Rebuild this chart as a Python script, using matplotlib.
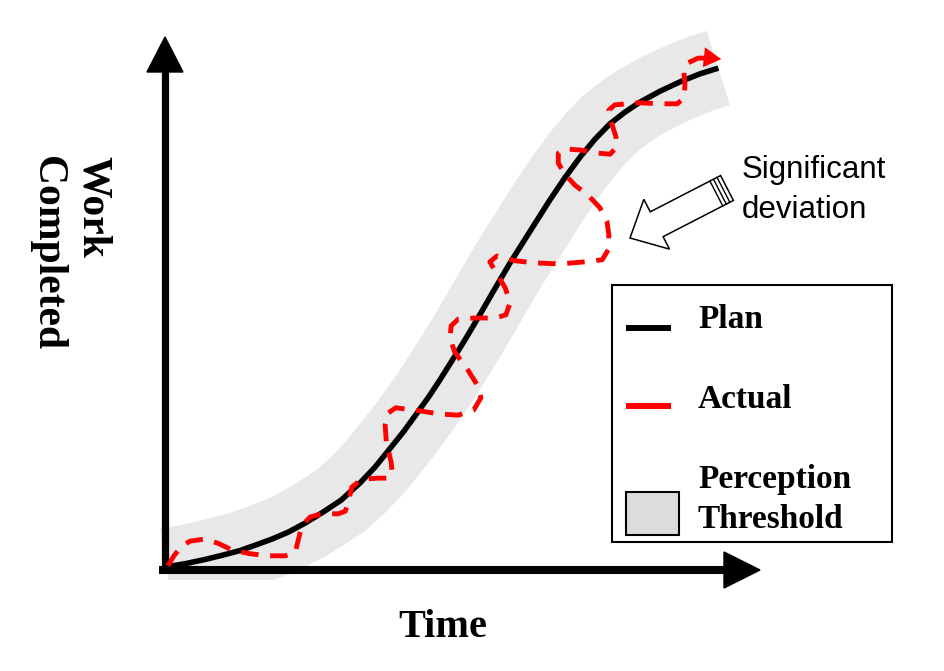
import numpy as np
import matplotlib
matplotlib.use("Agg")
import matplotlib.pyplot as plt
from matplotlib.patches import Polygon, Rectangle
from matplotlib.lines import Line2D
from matplotlib.transforms import Affine2D

# plan curve (time %, work %)
plan_t = [0.7, 3.9, 7.2, 10.1, 13.1, 15.6, 18.5, 21.2, 24.0, 26.9, 30.1, 33.3,
          35.8, 38.3, 40.7, 43.0, 44.9, 46.7, 48.7, 50.9, 53.1, 55.8, 58.5, 61.9,
          65.2, 67.7, 70.3, 72.8, 75.3, 77.8, 80.3, 83.7, 87.1, 90.4, 93.5]
plan_w = [0.6, 1.2, 2.0, 2.8, 3.7, 4.7, 5.9, 7.2, 8.9, 10.9, 13.3, 16.6,
          19.6, 23.1, 26.5, 30.1, 33.1, 36.2, 39.8, 43.8, 48.0, 53.3, 58.5, 64.6,
          70.5, 74.7, 78.7, 82.1, 85.0, 87.2, 89.1, 91.2, 93.0, 94.5, 95.6]

# actual progress, wandering around the plan
actual_t = [1.0, 2.0, 3.2, 4.7, 7.2, 9.4, 11.8, 14.8, 17.8, 20.7, 22.4, 22.9, 23.5,
            24.9, 26.9, 29.6, 30.8, 31.3, 31.9, 33.6, 36.3, 38.0, 38.7, 38.5, 37.7,
            37.5, 38.0, 39.3, 43.4, 46.7, 49.8, 52.4, 53.6, 52.9, 51.4, 49.2, 48.4,
            48.6, 49.8, 52.6, 56.0, 57.8, 58.5, 57.7, 56.3, 55.1, 56.3, 59.3, 62.7,
            66.9, 71.1, 74.0, 75.0, 75.1, 74.8, 73.6, 71.6, 69.4, 67.7, 66.6, 66.6,
            67.7, 70.3, 73.3, 75.3, 76.3, 76.3, 75.5, 75.1, 76.1, 80.3, 83.7, 86.6,
            87.7, 87.9, 87.7, 88.4, 90.1, 92.4]
actual_w = [0.8, 2.7, 4.4, 5.5, 5.9, 5.1, 3.8, 3.1, 2.7, 2.7, 3.4, 5.7, 8.4,
            10.1, 10.7, 10.7, 11.2, 12.8, 15.8, 17.3, 17.5, 17.5, 18.5, 20.6, 24.4,
            27.6, 29.9, 30.9, 30.3, 29.7, 29.5, 30.5, 32.8, 35.4, 38.1, 41.5, 44.2,
            46.5, 47.8, 48.0, 48.0, 48.6, 50.9, 53.7, 56.4, 58.7, 59.8, 58.9, 58.5,
            58.3, 58.7, 59.1, 61.0, 63.8, 66.3, 69.0, 71.4, 73.3, 75.4, 77.5, 79.4,
            80.2, 80.0, 79.4, 79.2, 80.4, 82.5, 85.3, 87.6, 88.6, 89.0, 88.8, 88.8,
            89.9, 92.4, 94.9, 96.6, 97.5, 97.5]
actual_tip = (94.0, 97.3)

legend_labels = ["Plan", "Actual", "Perception\nThreshold"]

band_color = "#e8e8e8"
red = "#ff0000"
serif = ["Liberation Serif", "DejaVu Serif"]

fig = plt.figure(figsize=(9.45, 6.71), dpi=100)
ax = fig.add_axes([162 / 945, 101 / 671, 595 / 945, 525 / 671])
ax.set_xlim(0, 100)
ax.set_ylim(0, 100)
ax.set_axis_off()

# image pixel coords for the decorations
pix = Affine2D().scale(1 / 945, -1 / 671).translate(0, 1) + fig.transFigure

# perception threshold band, cut flat at the bottom
band, = ax.plot(plan_t, plan_w, color=band_color, lw=56, solid_capstyle="butt",
                solid_joinstyle="round", zorder=1)
clip = Rectangle((100, 0), 800, 580, transform=pix)
band.set_clip_box(None)
band.set_clip_path(clip)
band.set_clip_on(True)

# axes arrows
ax.add_line(Line2D([165, 165], [573, 68], color="black", lw=5.2, transform=pix,
                   clip_on=False, zorder=3, solid_capstyle="butt"))
ax.add_patch(Polygon([[147, 72], [183, 72], [165, 37]], closed=True, color="black",
                     transform=pix, clip_on=False, zorder=3))
ax.add_line(Line2D([159, 728], [569.5, 569.5], color="black", lw=5.8, transform=pix,
                   clip_on=False, zorder=3, solid_capstyle="butt"))
ax.add_patch(Polygon([[724, 552], [724, 588], [760, 570]], closed=True, color="black",
                     transform=pix, clip_on=False, zorder=3))

# plan and actual
ax.plot(plan_t, plan_w, color="black", lw=4.0, zorder=4, clip_on=False,
        solid_capstyle="butt", solid_joinstyle="round")
ax.plot(actual_t, actual_w, color=red, lw=3.5, zorder=5, clip_on=False,
        linestyle=(0, (3.6, 2.4)), dash_capstyle="butt", dash_joinstyle="round")
ax.annotate("", xy=actual_tip, xytext=(actual_t[-1], actual_w[-1]), zorder=5,
            arrowprops=dict(arrowstyle="-|>,head_length=0.7,head_width=0.4",
                            color=red, lw=0, mutation_scale=18, shrinkA=0, shrinkB=0))

# axis titles
ax.text(443, 637, "Time", transform=pix, ha="center", va="baseline",
        fontsize=29, fontweight="bold", family=serif)
ax.text(70, 156, "Work\nCompleted", transform=pix, ha="center", va="top",
        rotation=270, multialignment="left", fontsize=30, fontweight="bold",
        family=serif, linespacing=1.3)

# significant deviation callout
T = np.array([727.0, 188.0])
P = np.array([630.0, 238.0])
u = (P - T) / np.linalg.norm(P - T)
n = np.array([-u[1], u[0]])
B = P - 30 * u
arrow_pts = [T + 14 * n, B + 14 * n, B + 28 * n, P, B - 28 * n, B - 14 * n, T - 14 * n]
ax.add_patch(Polygon(arrow_pts, closed=True, facecolor="white", edgecolor="black",
                     lw=1.1, transform=pix, clip_on=False, zorder=6))
for k in [4, 8, 12]:
    a = T + k * u + 14 * n
    b = T + k * u - 14 * n
    ax.add_line(Line2D([a[0], b[0]], [a[1], b[1]], color="black", lw=1.0,
                       transform=pix, clip_on=False, zorder=7))
ax.text(742, 178, "Significant", transform=pix, ha="left", va="baseline",
        fontsize=22.5, family=["Liberation Sans", "DejaVu Sans"])
ax.text(742, 218, "deviation", transform=pix, ha="left", va="baseline",
        fontsize=22.5, family=["Liberation Sans", "DejaVu Sans"])

# legend box
ax.add_patch(Rectangle((612, 285), 280, 257, facecolor="white", edgecolor="black",
                       lw=1.5, transform=pix, clip_on=False, zorder=6))
ax.add_line(Line2D([626, 671], [328, 328], color="black", lw=4.3, transform=pix,
                   clip_on=False, zorder=7, solid_capstyle="butt"))
ax.add_line(Line2D([626, 671], [406, 406], color=red, lw=4.3, transform=pix,
                   clip_on=False, zorder=7, solid_capstyle="butt"))
ax.add_patch(Rectangle((626, 492), 53, 43, facecolor="#dcdcdc", edgecolor="black",
                       lw=1.5, transform=pix, clip_on=False, zorder=7))
for y, lab in zip([328, 408, 488], legend_labels):
    lines = lab.split("\n")
    for i, s in enumerate(lines):
        ax.text(698, y + 40 * i, s, transform=pix, ha="left", va="baseline",
                fontsize=24, fontweight="bold", family=serif, zorder=8)

fig.savefig("out.png", dpi=100, facecolor="white")
